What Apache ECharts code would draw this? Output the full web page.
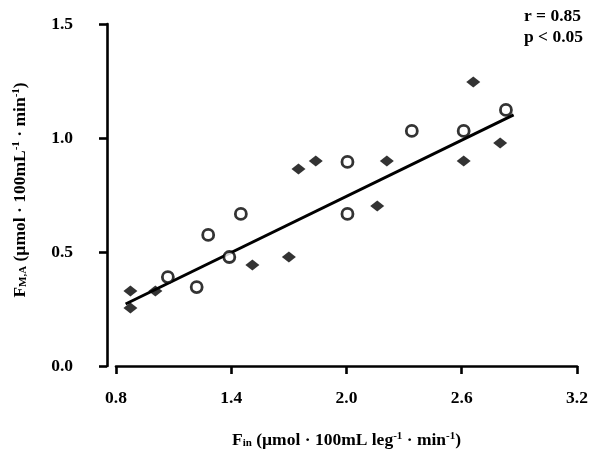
<!DOCTYPE html>
<html>
<head>
<meta charset="utf-8">
<script src="https://cdn.jsdelivr.net/npm/echarts@6/dist/echarts.min.js"></script>
<style>html,body{margin:0;padding:0;background:#fff}#c{width:601px;height:457px}</style>
</head>
<body>
<div id="c"></div>
<script>
// Filled diamonds
var diamondX = [0.875, 0.875, 1.005, 1.51, 1.70, 1.75, 1.84, 2.16, 2.21, 2.61, 2.66, 2.80];
var diamondY = [0.329, 0.254, 0.329, 0.443, 0.478, 0.864, 0.899, 0.702, 0.899, 0.899, 1.246, 0.978];
// Open circles
var circleX = [1.07, 1.22, 1.28, 1.39, 1.45, 2.005, 2.005, 2.34, 2.61, 2.83];
var circleY = [0.390, 0.346, 0.575, 0.478, 0.667, 0.895, 0.667, 1.031, 1.031, 1.123];
// Regression line end points
var lineX = [0.85, 2.87];
var lineY = [0.272, 1.101];
var xTicks = [0.8, 1.4, 2.0, 2.6, 3.2];
var yTicks = [0.0, 0.5, 1.0, 1.5];
var statText = ['r = 0.85', 'p < 0.05'];

function zip(a, b) { return a.map(function (v, i) { return [v, b[i]]; }); }

var FONT = '"Liberation Serif", "DejaVu Serif", serif';
var FS = 17.5;
function richStyle() {
  return {
    b: {fontFamily: FONT, fontWeight: 'bold', fontSize: FS, color: '#000'},
    s: {fontFamily: FONT, fontWeight: 'bold', fontSize: 11, color: '#000', verticalAlign: 'bottom', padding: [7, 0, 0, 0]},
    u: {fontFamily: FONT, fontWeight: 'bold', fontSize: 11, color: '#000', verticalAlign: 'top', padding: [0, 0, 7, 0]}
  };
}
var chart = echarts.init(document.getElementById('c'), null, {renderer: 'canvas'});
chart.setOption({
  animation: false,
  backgroundColor: '#fff',
  grid: {left: 116, right: 24, top: 24, bottom: 91, containLabel: false},
  graphic: [{
    type: 'text', right: 18, top: 6,
    style: {text: statText.join('\n'), fill: '#000', font: 'bold ' + FS + 'px ' + FONT, textAlign: 'left', lineHeight: 21}
  }],
  xAxis: {
    type: 'value', min: xTicks[0], max: xTicks[xTicks.length - 1], interval: 0.6,
    splitLine: {show: false},
    axisLine: {show: true, onZero: false, lineStyle: {color: '#000', width: 2.6}},
    axisTick: {show: true, inside: false, length: 8, lineStyle: {color: '#000', width: 2.6}},
    axisLabel: {margin: 23, color: '#000', fontFamily: FONT, fontWeight: 'bold', fontSize: FS,
      formatter: function (v) { return v.toFixed(1); }},
    name: '{b|F}{s|in}{b| (\u00b5mol \u00b7 100mL leg}{u|-1}{b| \u00b7 min}{u|-1}{b|)}',
    nameLocation: 'middle', nameGap: 65,
    nameTextStyle: {rich: richStyle()}
  },
  yAxis: {
    type: 'value', min: yTicks[0], max: yTicks[yTicks.length - 1], interval: 0.5,
    offset: 9,
    splitLine: {show: false},
    axisLine: {show: true, onZero: false, lineStyle: {color: '#000', width: 2.6}},
    axisTick: {show: true, inside: false, length: 8, lineStyle: {color: '#000', width: 2.6}},
    axisLabel: {margin: 34, color: '#000', fontFamily: FONT, fontWeight: 'bold', fontSize: FS,
      formatter: function (v) { return v.toFixed(1); }},
    name: '{b|F}{s|M,A}{b| (\u00b5mol \u00b7 100mL}{u|-1}{b| \u00b7 min}{u|-1}{b|)}',
    nameLocation: 'middle', nameGap: 78, nameRotate: 90,
    nameTextStyle: {rich: richStyle(), padding: [0, 0, 0, 10]}
  },
  series: [
    {
      type: 'line', data: zip(lineX, lineY), showSymbol: false, symbol: 'none',
      lineStyle: {color: '#000', width: 3}, z: 1
    },
    {
      type: 'scatter', data: zip(diamondX, diamondY), symbol: 'diamond', symbolSize: [14, 11],
      itemStyle: {color: '#000'}, z: 3
    },
    {
      type: 'scatter', data: zip(circleX, circleY), symbol: 'circle', symbolSize: 11,
      itemStyle: {color: '#fff', borderColor: '#000', borderWidth: 2.8}, z: 4
    }
  ]
});
</script>
</body>
</html>
